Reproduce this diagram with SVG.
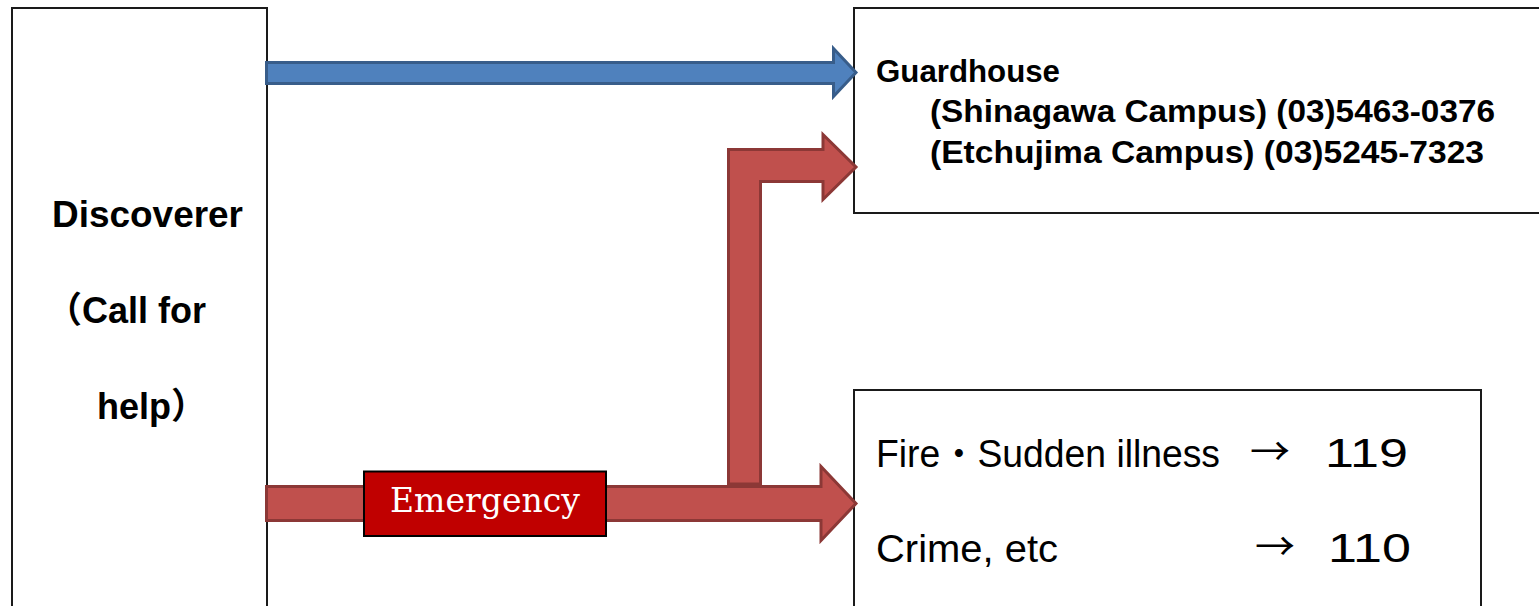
<svg xmlns="http://www.w3.org/2000/svg" width="1539" height="606" viewBox="0 0 1539 606">
<style>
.box{fill:#fff;stroke:#1a1a1a;stroke-width:2}
.t{font-family:"Liberation Sans","Noto Sans CJK JP",Arial,sans-serif;fill:#000}
.j{font-family:"Noto Sans CJK JP","Liberation Sans",sans-serif;fill:#000}
.b{font-weight:bold}
.blue{fill:#4F81BD;stroke:#385D8A;stroke-width:3;stroke-linejoin:miter}
.red{fill:#C0504D;stroke:#8C3836;stroke-width:3;stroke-linejoin:miter}
</style>
<rect width="1539" height="606" fill="#fff"/>
<g id="discoverer">
<rect class="box" x="12" y="8" width="255" height="620"/>
<text class="t b" x="52" y="227" font-size="36" textLength="191" lengthAdjust="spacingAndGlyphs">Discoverer</text>
<text class="t b" x="46" y="323" font-size="36">（Call for</text>
<text class="t b" x="97" y="419" font-size="36">help）</text>
</g>
<g id="guardhouse">
<rect class="box" x="854" y="8" width="1683" height="205"/>
<text class="t b" x="876" y="82" font-size="31" textLength="184" lengthAdjust="spacingAndGlyphs">Guardhouse</text>
<text class="t b" x="930" y="122" font-size="31" textLength="565" lengthAdjust="spacingAndGlyphs">(Shinagawa Campus) (03)5463-0376</text>
<text class="t b" x="930" y="163" font-size="31" textLength="554" lengthAdjust="spacingAndGlyphs">(Etchujima Campus) (03)5245-7323</text>
</g>
<g id="emergency-numbers">
<rect class="box" x="854" y="390" width="627" height="300"/>
<text class="t" x="876" y="467" font-size="38" textLength="344" lengthAdjust="spacingAndGlyphs">Fire・Sudden illness</text>
<text class="j" x="1250" y="465" font-size="38" textLength="40" lengthAdjust="spacingAndGlyphs">→</text>
<text class="t" x="1325" y="467" font-size="41" textLength="83" lengthAdjust="spacingAndGlyphs">119</text>
<text class="t" x="876" y="562" font-size="38" textLength="182" lengthAdjust="spacingAndGlyphs">Crime, etc</text>
<text class="j" x="1255" y="560" font-size="38" textLength="40" lengthAdjust="spacingAndGlyphs">→</text>
<text class="t" x="1328" y="562" font-size="41" textLength="83" lengthAdjust="spacingAndGlyphs">110</text>
</g>
<g id="connectors">
<polygon class="blue" points="266.5,62.5 833.5,62.5 833.5,48.5 856,72.5 833.5,96.5 833.5,83.5 266.5,83.5"/>
<polygon class="red" points="728.5,484 728.5,149.5 823,149.5 823,134.5 856,167 823,199.5 823,181.5 760.5,181.5 760.5,484"/>
<polygon class="red" points="266.5,486.5 821,486.5 821,466.5 856,503.5 821,540.5 821,520.5 266.5,520.5"/>
</g>
<g id="emergency-label">
<rect x="364" y="471.5" width="242" height="64.5" fill="#C00000" stroke="#000" stroke-width="2"/>
<text x="390" y="512" font-family="'DejaVu Serif','Liberation Serif',serif" font-size="34" fill="#fff" textLength="190" lengthAdjust="spacingAndGlyphs">Emergency</text>
</g>
</svg>
